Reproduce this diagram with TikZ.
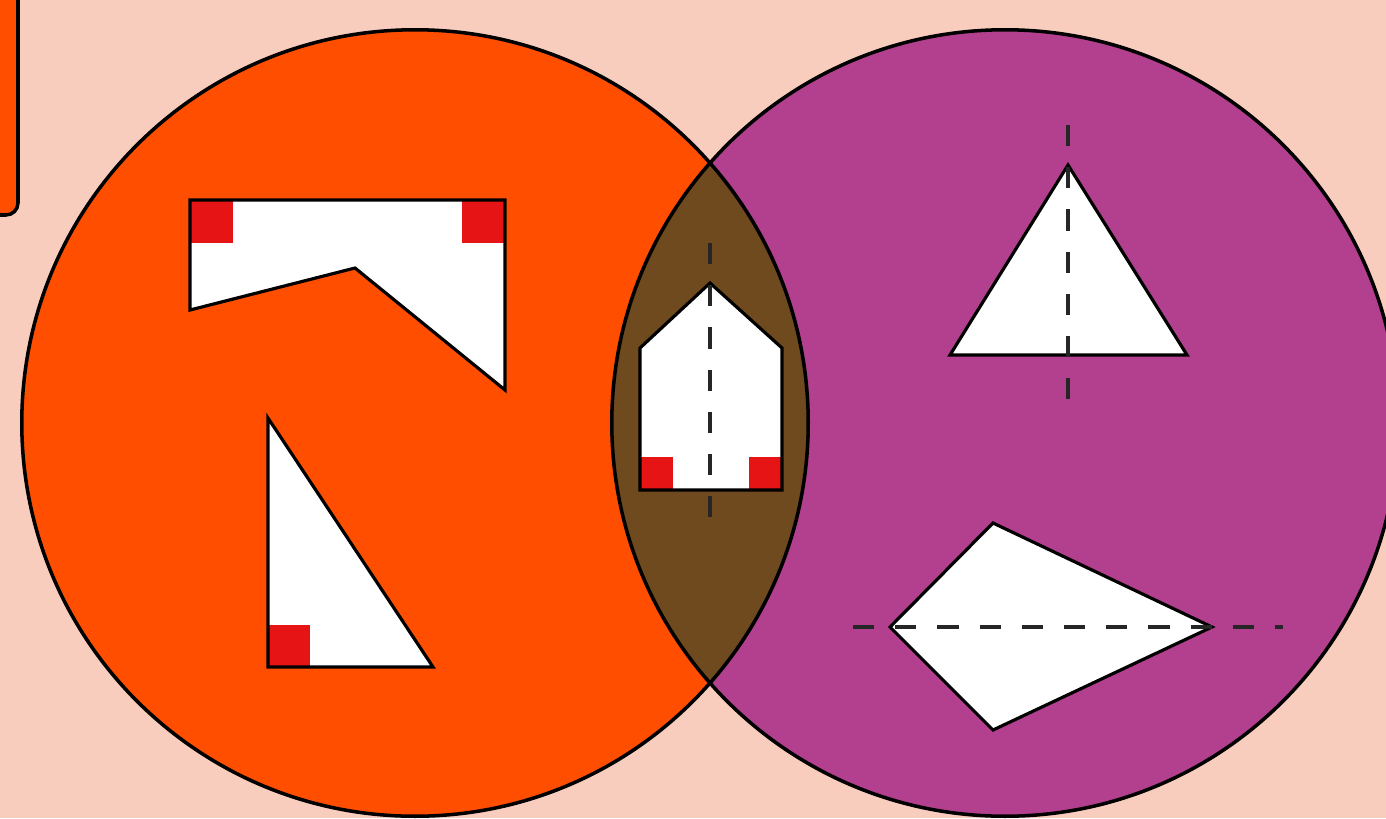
\documentclass[tikz,border=0pt]{standalone}
\usepackage{tikz}
\definecolor{bgpink}{HTML}{F9CDBE}
\definecolor{lorange}{HTML}{FF4E00}
\definecolor{rpurple}{HTML}{B3408E}
\definecolor{lensbrown}{HTML}{6E4A1E}
\definecolor{sqred}{HTML}{E61414}

\begin{document}
\begin{tikzpicture}[
  x=0.01cm, y=-0.01cm,
  ring/.style={draw=black, line width=1pt},
  cutout/.style={draw=black, line width=0.9pt, line join=miter},
  corner/.style={fill=sqred},
  symline/.style={draw=black!85, line width=0.9pt, dash pattern=on 6pt off 6pt}
]
\fill[bgpink] (0,0) rectangle (1386,818);
\useasboundingbox (0,0) rectangle (1386,818);
\coordinate (lc) at (415,423);
\coordinate (rc) at (1005,423);
% tab at the top left
\filldraw[fill=lorange, ring, rounded corners=0.12cm] (-30,-30) rectangle (18,215);
% the two sets
\fill[lorange] (lc) circle (3.93cm);
\fill[rpurple] (rc) circle (3.93cm);
\begin{scope}
  \clip (lc) circle (3.93cm);
  \fill[lensbrown] (rc) circle (3.93cm);
\end{scope}
\draw[ring] (lc) circle (3.93cm);
\draw[ring] (rc) circle (3.93cm);

% left: right angles, no symmetry
\fill[white] (190,200) -- (505,200) -- (505,390) -- (355,268) -- (190,310) -- cycle;
\fill[corner] (190,200) rectangle (233,243);
\fill[corner] (462,200) rectangle (505,243);
\draw[cutout] (190,200) -- (505,200) -- (505,390) -- (355,268) -- (190,310) -- cycle;

\fill[white] (268,418) -- (268,667) -- (433,667) -- cycle;
\fill[corner] (268,625) rectangle (310,667);
\draw[cutout] (268,418) -- (268,667) -- (433,667) -- cycle;

% middle: both
\fill[white] (710,283) -- (782,348) -- (782,490) -- (640,490) -- (640,348) -- cycle;
\fill[corner] (640,457) rectangle (673,490);
\fill[corner] (749,457) rectangle (782,490);
\draw[cutout] (710,283) -- (782,348) -- (782,490) -- (640,490) -- (640,348) -- cycle;
\draw[symline] (710,243) -- (710,535);

% right: line symmetry
\filldraw[fill=white, cutout] (1068,165) -- (1187,355) -- (950,355) -- cycle;
\draw[symline] (1068,125) -- (1068,418);

\filldraw[fill=white, cutout] (993,523) -- (1212,627) -- (993,730) -- (890,627) -- cycle;
\draw[symline] (853,627) -- (1283,627);
\end{tikzpicture}
\end{document}
